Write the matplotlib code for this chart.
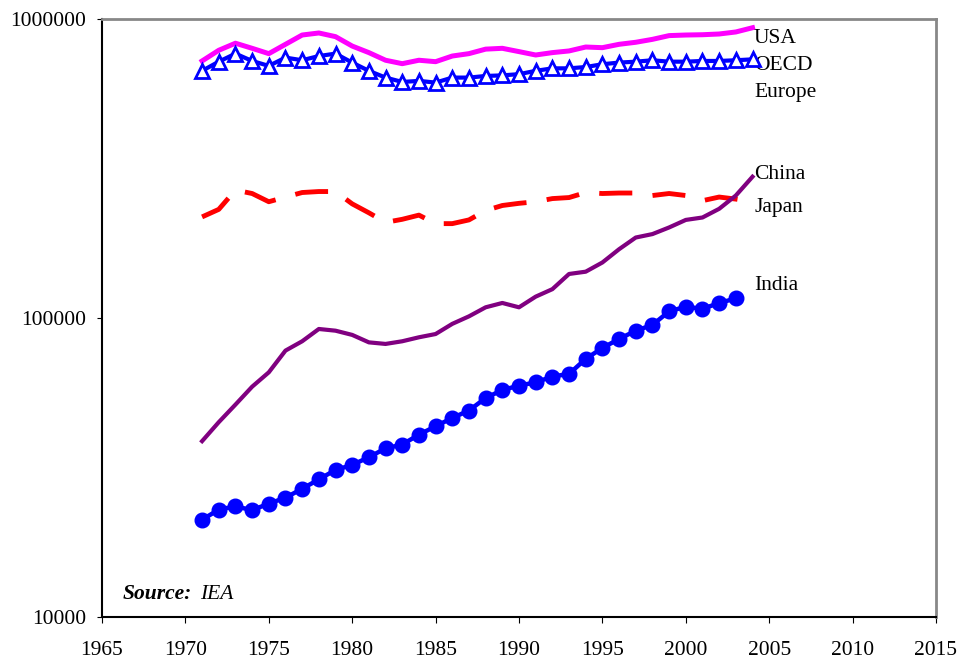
import matplotlib
matplotlib.use("Agg")
import matplotlib.pyplot as plt
from matplotlib.ticker import FixedLocator, NullLocator, FuncFormatter

years = list(range(1971, 2005))
usa = [724000, 786000, 830000, 798000, 766000, 823000, 884000, 898000, 873000, 812000,
       772000, 728000, 709000, 728000, 720000, 752000, 766000, 793000, 798000, 778000,
       758000, 772000, 782000, 806000, 802000, 823000, 836000, 855000, 880000, 884000,
       886000, 891000, 905000, 935000]
oecd_europe = [671000, 720000, 766000, 724000, 697000, 743000, 728000, 752000, 766000, 715000,
               671000, 637000, 616000, 621000, 613000, 637000, 637000, 645000, 648000, 654000,
               671000, 684000, 684000, 691000, 706000, 715000, 720000, 728000, 720000, 720000,
               724000, 724000, 728000, 733000]
japan = [218000, 231000, 268000, 261000, 245000, 254000, 263000, 265000, 265000, 241000,
         225000, 209000, 214000, 221000, 207000, 207000, 213000, 229000, 238000, 242000,
         245000, 251000, 253000, 263000, 261000, 262000, 262000, 257000, 261000, 257000,
         247000, 254000, 250000, 245000]
china = [38800, 44900, 51400, 59000, 65900, 77900, 83700, 92000, 90800, 87900,
         83000, 82000, 83700, 86300, 88500, 95700, 101400, 108700, 112400, 108700,
         118000, 125000, 140500, 143000, 153500, 170000, 186000, 191000, 201000, 213000,
         217000, 232000, 257000, 297000]
india_years = list(range(1971, 2004))
india = [21200, 22900, 23500, 22800, 24000, 25100, 26900, 28900, 31100, 32300,
         34300, 36700, 37800, 40800, 43500, 46400, 49100, 54100, 57500, 59500,
         61000, 63800, 65100, 73100, 79500, 85200, 90800, 94900, 105400, 109200,
         107400, 112400, 116400]

x_ticks = list(range(1965, 2020, 5))
y_ticks = [10000, 100000, 1000000]

plt.rcParams['font.family'] = ['Liberation Serif', 'DejaVu Serif']

fig = plt.figure(figsize=(9.63, 6.61), dpi=100)
ax = fig.add_axes([102/963, 1-617.3/661, (936-102)/963, (617.3-19)/661])

ax.plot(years, usa, color='#ff00ff', lw=3.6, zorder=3)
ax.plot(years, oecd_europe, color='#0000ff', lw=3.0, marker='^', markersize=10,
        markerfacecolor='white', markeredgecolor='#0000ff', markeredgewidth=2.0, zorder=4)
ax.plot(years, japan, color='#ff0000', lw=3.5, dashes=(6.8, 4.2), zorder=3)
ax.plot(years, china, color='#800080', lw=3.0, zorder=3)
ax.plot(india_years, india, color='#0000ff', lw=3.2, marker='o', markersize=10.5,
        markerfacecolor='#0000ff', markeredgecolor='#0000ff', zorder=4)

ax.set_yscale('log')
ax.set_xlim(1965, 2015)
ax.set_ylim(10000, 1000000)
ax.xaxis.set_major_locator(FixedLocator(x_ticks))
ax.yaxis.set_major_locator(FixedLocator(y_ticks))
ax.yaxis.set_minor_locator(NullLocator())
ax.yaxis.set_major_formatter(FuncFormatter(lambda v, p: f"{int(round(v))}"))
ax.tick_params(axis='both', direction='out', width=0.8, labelsize=15.5, color='black')
ax.tick_params(axis='x', length=4.3, pad=13)
ax.tick_params(axis='y', length=3.6, pad=8)

for s in ['left', 'bottom']:
    ax.spines[s].set_color('black')
    ax.spines[s].set_linewidth(1.5)
for s in ['top', 'right']:
    ax.spines[s].set_color('#888888')
    ax.spines[s].set_linewidth(2.0)

lab_kw = dict(fontsize=15.5, va='baseline', ha='left')
ax.text(2004.09, 831000, 'USA', **lab_kw)
ax.text(2004.09, 675000, 'OECD', **lab_kw)
ax.text(2004.09, 548000, 'Europe', **lab_kw)
ax.text(2004.09, 292000, 'China', **lab_kw)
ax.text(2004.09, 226000, 'Japan', **lab_kw)
ax.text(2004.09, 124000, 'India', **lab_kw)

ax.text(1966.24, 11490, 'Source:', fontsize=15.5, fontweight='bold', fontstyle='italic',
        va='baseline', ha='left')
ax.text(1970.88, 11490, 'IEA', fontsize=15.5, fontstyle='italic', va='baseline', ha='left')

fig.savefig('out.png', dpi=100)
